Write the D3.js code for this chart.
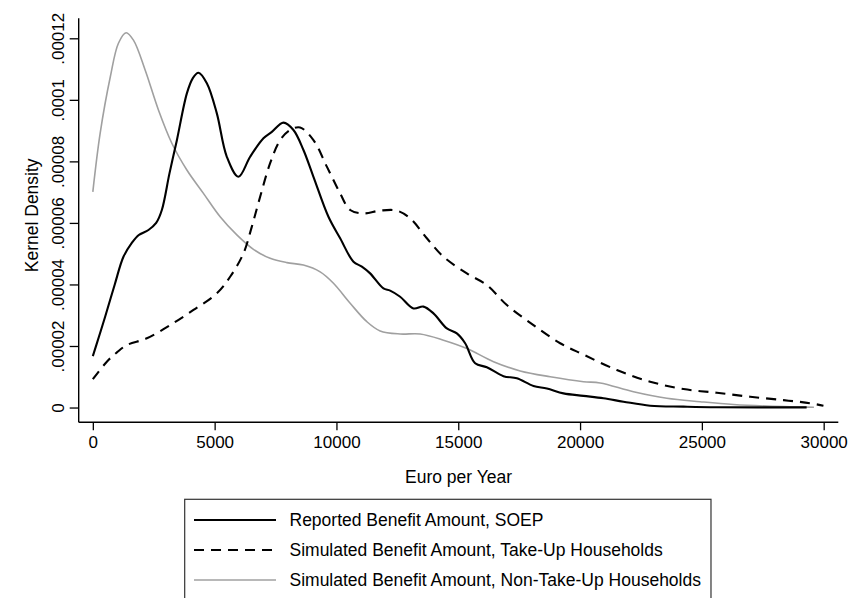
<!DOCTYPE html>
<html>
<head>
<meta charset="utf-8">
<script src="https://cdn.jsdelivr.net/npm/d3@7"></script>
<style>
  html, body { margin: 0; padding: 0; background: #fff; }
  svg { display: block; font-family: "Liberation Sans", Arial, sans-serif; }
</style>
</head>
<body>
<svg id="chart" width="851" height="598"></svg>
<script>
// ---- Data ----
const xTicks = [0, 5000, 10000, 15000, 20000, 25000, 30000];
const yTicks = [0, 0.00002, 0.00004, 0.00006, 0.00008, 0.0001, 0.00012];
const yTickLabels = ["0", ".00002", ".00004", ".00006", ".00008", ".0001", ".00012"];
const xTitle = "Euro per Year";
const yTitle = "Kernel Density";
const seriesNames = [
  "Reported Benefit Amount, SOEP",
  "Simulated Benefit Amount, Take-Up Households",
  "Simulated Benefit Amount, Non-Take-Up Households"
];

const soepX = [0, 250, 505, 900, 1257, 1600, 1873, 2283, 2600, 2833, 3146, 3450, 3860, 4100, 4335, 4680, 5090, 5500, 5978, 6457, 7003, 7348, 7825, 8235, 8645, 9056, 9672, 10152, 10698, 11043, 11383, 11929, 12204, 12615, 13161, 13572, 13982, 14532, 14942, 15283, 15694, 16174, 16855, 17405, 18087, 18637, 19318, 20140, 20961, 21782, 22877, 24245, 25615, 29300];
const soepY = [1.67e-5, 2.3e-5, 2.95e-5, 4.0e-5, 4.9e-5, 5.35e-5, 5.6e-5, 5.77e-5, 6.0e-5, 6.42e-5, 7.61e-5, 8.69e-5, 1.021e-4, 1.07e-4, 1.088e-4, 1.054e-4, 9.56e-5, 8.15e-5, 7.5e-5, 8.15e-5, 8.75e-5, 8.96e-5, 9.26e-5, 9.02e-5, 8.37e-5, 7.5e-5, 6.2e-5, 5.5e-5, 4.74e-5, 4.58e-5, 4.36e-5, 3.87e-5, 3.8e-5, 3.6e-5, 3.22e-5, 3.28e-5, 3.06e-5, 2.57e-5, 2.41e-5, 2.09e-5, 1.44e-5, 1.31e-5, 1.02e-5, 9.5e-6, 7.0e-6, 6.2e-6, 4.6e-6, 3.8e-6, 3.0e-6, 1.9e-6, 6e-7, 3e-7, 1e-7, 5e-8];

const takeUpX = [0, 575, 1000, 1396, 2217, 3173, 4130, 5090, 5636, 6182, 6527, 6868, 7278, 7689, 8099, 8510, 9056, 9606, 10152, 10563, 11108, 11794, 12479, 13025, 13711, 14393, 15353, 16174, 16995, 18087, 19183, 20140, 21508, 22877, 24245, 25615, 26985, 28350, 29445, 29990];
const takeUpY = [9.2e-6, 1.49e-5, 1.8e-5, 2.03e-5, 2.25e-5, 2.68e-5, 3.17e-5, 3.71e-5, 4.25e-5, 5.01e-5, 5.88e-5, 6.85e-5, 7.94e-5, 8.69e-5, 9.02e-5, 9.1e-5, 8.69e-5, 7.83e-5, 6.96e-5, 6.42e-5, 6.31e-5, 6.4e-5, 6.4e-5, 6.15e-5, 5.5e-5, 4.9e-5, 4.36e-5, 3.98e-5, 3.33e-5, 2.68e-5, 2.09e-5, 1.72e-5, 1.22e-5, 8.4e-6, 6.0e-6, 4.8e-6, 3.5e-6, 2.4e-6, 1.4e-6, 6e-7];

const nonTakeUpX = [0, 300, 718, 1051, 1367, 1667, 2147, 2693, 3243, 3860, 4540, 5226, 5911, 6593, 7278, 7964, 8645, 9331, 9877, 10563, 11248, 11794, 12615, 13436, 14393, 15353, 16448, 17543, 18773, 20140, 20825, 22193, 23562, 24930, 26298, 28350, 29600];
const nonTakeUpY = [7.01e-5, 8.91e-5, 1.075e-4, 1.184e-4, 1.218e-4, 1.194e-4, 1.097e-4, 9.67e-5, 8.59e-5, 7.72e-5, 6.96e-5, 6.2e-5, 5.61e-5, 5.14e-5, 4.85e-5, 4.71e-5, 4.63e-5, 4.41e-5, 4.04e-5, 3.39e-5, 2.79e-5, 2.49e-5, 2.39e-5, 2.39e-5, 2.19e-5, 1.92e-5, 1.49e-5, 1.19e-5, 1.0e-5, 8.4e-6, 8.0e-6, 5.1e-6, 3.0e-6, 1.9e-6, 1.0e-6, 3e-7, 1e-7];

// ---- Layout ----
const svg = d3.select("#chart");
const plotLeft = 78.7, plotRight = 838.3, plotTop = 18.3, plotBottom = 422.3;
const xDomain = [-580, 30600];
const yDomain = [-4.8e-6, 1.265e-4];
const x = d3.scaleLinear().domain(xDomain).range([plotLeft, plotRight]);
const y = d3.scaleLinear().domain(yDomain).range([plotBottom, plotTop]);

const styles = [
  { stroke: "#000000", width: 2.1, dash: null },
  { stroke: "#000000", width: 2.1, dash: "10,7" },
  { stroke: "#a0a0a0", width: 1.6, dash: null }
];

const series = [
  soepX.map((d, i) => [d, soepY[i]]),
  takeUpX.map((d, i) => [d, takeUpY[i]]),
  nonTakeUpX.map((d, i) => [d, nonTakeUpY[i]])
];

// Axes
const xAxis = d3.axisBottom(x).tickValues(xTicks).tickSize(8).tickSizeOuter(0).tickFormat(d3.format("d"));
const gx = svg.append("g").attr("transform", `translate(0,${plotBottom})`).call(xAxis);
gx.select(".domain").remove();
gx.selectAll(".tick line").attr("stroke", "#000").attr("stroke-width", 1.3);
gx.selectAll(".tick text").attr("font-size", 17).attr("fill", "#000")
  .attr("font-family", "Liberation Sans, Arial, sans-serif").attr("dy", null).attr("y", 26);

const yAxis = d3.axisLeft(y).tickValues(yTicks).tickSize(9).tickSizeOuter(0)
  .tickFormat((d, i) => yTickLabels[i]);
const gy = svg.append("g").attr("transform", `translate(${plotLeft},0)`).call(yAxis);
gy.select(".domain").remove();
gy.selectAll(".tick line").attr("stroke", "#000").attr("stroke-width", 1.3);
gy.selectAll(".tick text").attr("font-size", 17).attr("fill", "#000")
  .attr("font-family", "Liberation Sans, Arial, sans-serif")
  .attr("x", null).attr("dy", null)
  .attr("text-anchor", "middle")
  .attr("transform", "translate(-15,0) rotate(-90)");

// Axis lines
svg.append("line").attr("x1", x(xDomain[0])).attr("x2", x(xDomain[0]))
  .attr("y1", y(yDomain[1])).attr("y2", y(yDomain[0]))
  .attr("stroke", "#000").attr("stroke-width", 1.4);
svg.append("line").attr("x1", x(xDomain[0])).attr("x2", x(xDomain[1]))
  .attr("y1", y(yDomain[0])).attr("y2", y(yDomain[0]))
  .attr("stroke", "#000").attr("stroke-width", 1.4);

// Titles
svg.append("text").attr("x", (plotLeft + plotRight) / 2).attr("y", 483)
  .attr("text-anchor", "middle").attr("font-size", 17.5).attr("fill", "#000").text(xTitle);
svg.append("text").attr("transform", `translate(38,${(plotTop + plotBottom) / 2 - 5}) rotate(-90)`)
  .attr("text-anchor", "middle").attr("font-size", 17.5).attr("fill", "#000").text(yTitle);

// Lines
const line = d3.line().x(d => x(d[0])).y(d => y(d[1])).curve(d3.curveCatmullRom.alpha(0.5));
// draw grey first so black lines are on top
[2, 1, 0].forEach(i => {
  svg.append("path").datum(series[i])
    .attr("d", line)
    .attr("fill", "none")
    .attr("stroke", styles[i].stroke)
    .attr("stroke-width", styles[i].width)
    .attr("stroke-dasharray", styles[i].dash)
    .attr("stroke-linejoin", "round");
});

// Legend
const legLeft = 184.7, legTop = 499.3;
const rowY = [520, 550, 580];
const legG = svg.append("g");
const rect = legG.append("rect").attr("x", legLeft).attr("y", legTop)
  .attr("height", 140).attr("fill", "#fff").attr("stroke", "#333").attr("stroke-width", 1.2);
let maxEnd = 0;
seriesNames.forEach((name, i) => {
  legG.append("line").attr("x1", 194).attr("x2", 276).attr("y1", rowY[i]).attr("y2", rowY[i])
    .attr("stroke", styles[i].stroke).attr("stroke-width", styles[i].width)
    .attr("stroke-dasharray", styles[i].dash);
  const t = legG.append("text").attr("x", 289.5).attr("y", rowY[i] + 6)
    .attr("font-size", 17.5).attr("fill", "#000").text(name);
  maxEnd = Math.max(maxEnd, 289.5 + t.node().getComputedTextLength());
});
rect.attr("width", maxEnd + 10 - legLeft);
</script>
</body>
</html>
